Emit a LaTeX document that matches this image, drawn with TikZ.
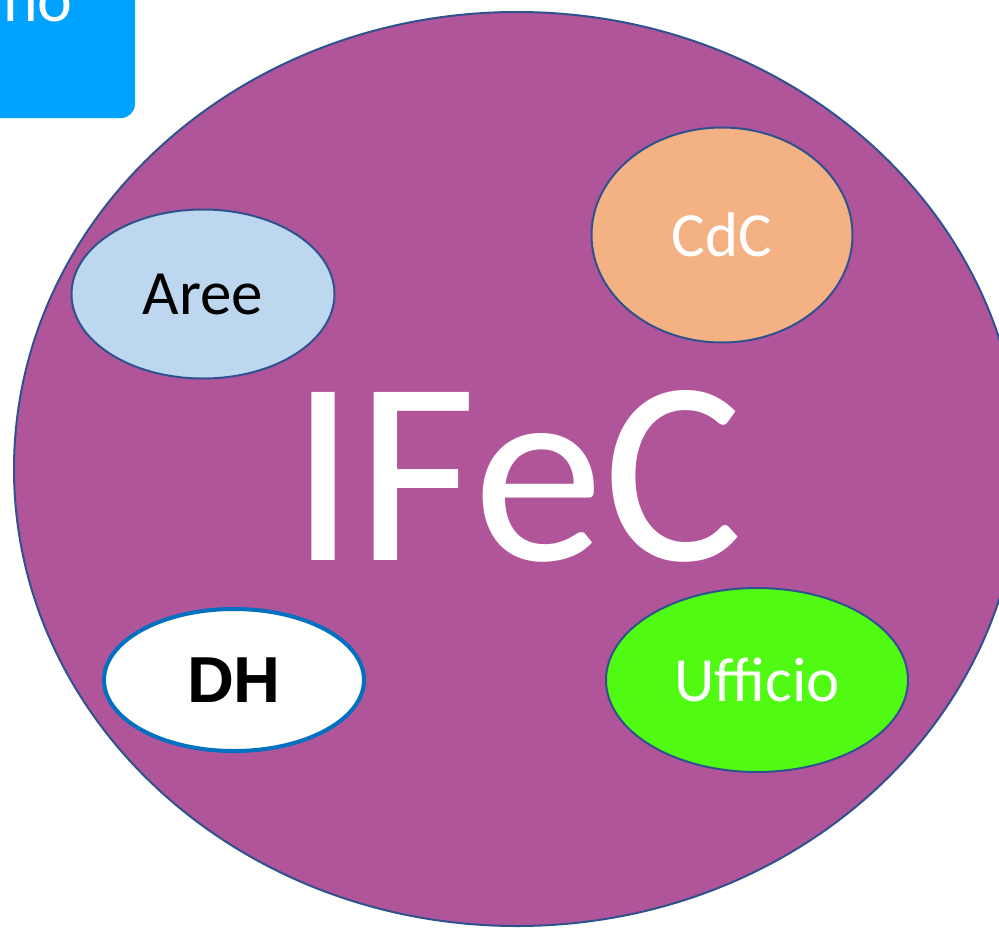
\documentclass[tikz,border=0pt]{standalone}
\usepackage{fontspec}
\setmainfont{Carlito}
\newfontfamily\dhfont{Liberation Sans}
\usetikzlibrary{shapes.geometric}
\definecolor{ifecpurple}{RGB}{176,85,153}
\definecolor{edgeblue}{RGB}{47,82,143}
\definecolor{areeblue}{RGB}{189,215,238}
\definecolor{cdcorange}{RGB}{244,177,131}
\definecolor{uffgreen}{RGB}{80,250,18}
\definecolor{dhblue}{RGB}{0,112,192}
\definecolor{tabblue}{RGB}{0,162,255}

\begin{document}
\begin{tikzpicture}[x=1pt,y=-1pt,
  part/.style={ellipse, draw=edgeblue, line width=2pt, inner sep=0pt,
    text=white, font=\fontsize{63}{63}\selectfont}]
  \useasboundingbox (0,0) rectangle (999,927);
  \clip (0,0) rectangle (999,927);
  % Define nodes
  \node[part, fill=ifecpurple, minimum width=1006pt, minimum height=914pt] (ifec) at (517,469) {};
  \node[text=white, inner sep=0pt, font=\fontsize{262}{262}\selectfont] (ifectxt) at (517,476) {IFeC};
  \node[part, fill=areeblue, text=black, minimum width=263pt, minimum height=169pt] (aree) at (203,294) {Aree};
  \node[part, fill=cdcorange, minimum width=261pt, minimum height=215pt] (cdc) at (722,235) {CdC};
  \node[part, fill=white, draw=dhblue, line width=4pt, text=black,
    font=\dhfont\bfseries\fontsize{65}{65}\selectfont,
    minimum width=260pt, minimum height=142pt] (dh) at (234,680) {DH};
  \node[part, fill=uffgreen, minimum width=302pt, minimum height=184pt] (uff) at (757,680) {Ufficio};

  % Tab
  \fill[tabblue, rounded corners=14pt] (-30,-200) rectangle (135,118);
  \node[anchor=base west, inner sep=0pt, text=white, font=\fontsize{66}{66}\selectfont] (tab) at (3,21) {no};
\end{tikzpicture}
\end{document}
